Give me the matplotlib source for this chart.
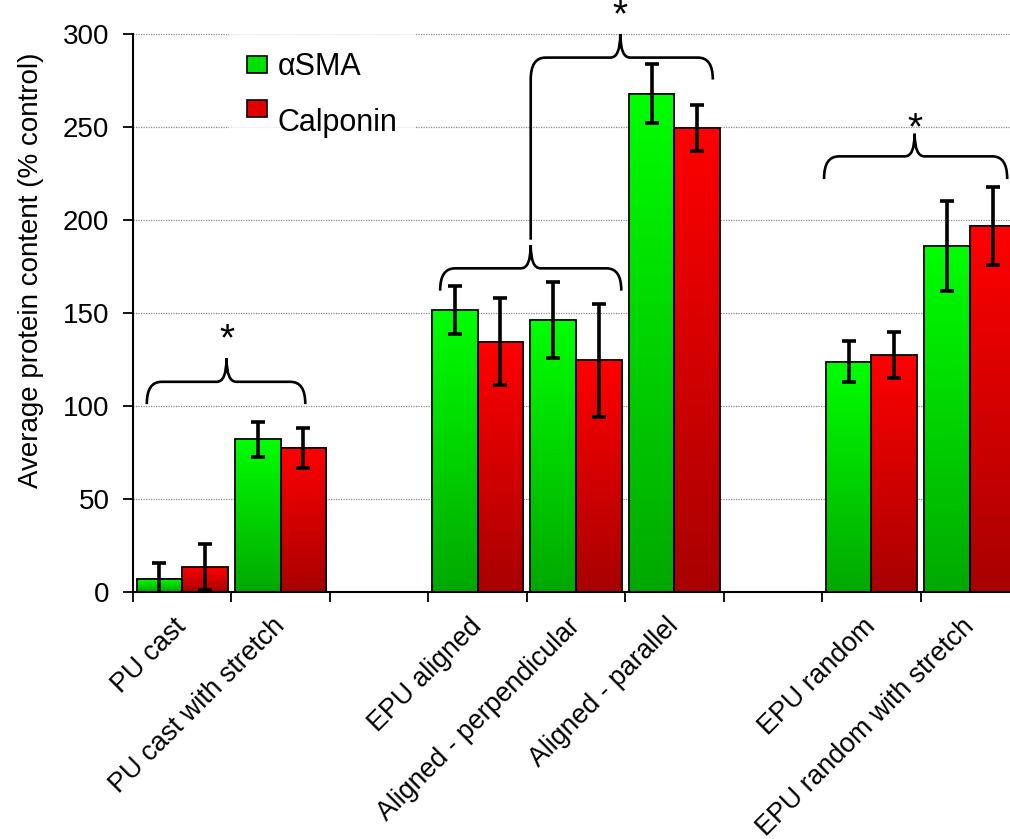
import numpy as np
import matplotlib
matplotlib.use('Agg')
import matplotlib.pyplot as plt
import matplotlib.transforms as mtransforms
from matplotlib.path import Path
from matplotlib.patches import PathPatch, Patch

plt.rcParams['font.family'] = ['Liberation Sans', 'DejaVu Sans']

# Data: slot index on the x axis (gaps between scaffold types are empty slots)
slots = [0, 1, 3, 4, 5, 7, 8]
labels = ['PU cast', 'PU cast with stretch', 'EPU aligned', 'Aligned - perpendicular',
          'Aligned - parallel', 'EPU random', 'EPU random with stretch']
sma = [7.2, 82.1, 151.6, 146.2, 268.0, 123.7, 186.0]
sma_err = [8.2, 9.3, 13.1, 20.4, 16.0, 11.0, 24.0]
calponin = [13.4, 77.6, 134.6, 124.6, 249.3, 127.3, 196.8]
calponin_err = [12.4, 10.8, 23.2, 30.3, 12.3, 12.3, 20.9]

# Significance braces: left x, right x, tip x, left end y, right end y, bar y, tip y
braces = [
    (-0.36, 1.25, 0.45, 101, 101, 113, 125.6),
    (2.62, 4.46, 3.54, 162, 162, 174, 186.4),
    (3.54, 5.39, 4.45, 189.4, 275.5, 287.3, 300),
    (6.52, 8.38, 7.44, 222, 222, 234.2, 246.4),
]
star_y = [135.5, None, 309.5, 248.5]

width = 0.463

fig = plt.figure(figsize=(10.1, 8.39), dpi=100)
ax = fig.add_axes([0.1317, 0.2944, 0.8772, 0.6651])

x = np.array(slots, dtype=float)


def gradient_bars(ax, xs, heights, top, bottom):
    bars = ax.bar(xs, heights, width, facecolor='none', edgecolor='black',
                  linewidth=1.3, zorder=3)
    grad = np.linspace(0, 1, 256)[:, None]
    top = np.array(top) / 255.0
    bottom = np.array(bottom) / 255.0
    img = top[None, None, :] * (1 - grad[:, :, None]) + bottom[None, None, :] * grad[:, :, None]
    for b in bars:
        x0, w, h = b.get_x(), b.get_width(), b.get_height()
        ax.imshow(img, extent=[x0, x0 + w, 0, h], aspect='auto', origin='upper',
                  zorder=2, interpolation='bilinear')
    return bars


gradient_bars(ax, x - width / 2, sma, (0, 255, 0), (0, 168, 0))
gradient_bars(ax, x + width / 2, calponin, (255, 0, 0), (168, 0, 0))

ax.errorbar(x - width / 2, sma, yerr=sma_err, fmt='none', ecolor='black',
            elinewidth=2.6, capsize=5, capthick=2.6, zorder=4)
ax.errorbar(x + width / 2, calponin, yerr=calponin_err, fmt='none', ecolor='black',
            elinewidth=2.6, capsize=5, capthick=2.6, zorder=4)


def brace(ax, x0, x1, xm, yl, yr, yh, yp, rx=0.15, rxm=0.1, ry=11.8):
    verts = [(x0, yl), (x0, yh - ry), (x0, yh), (x0 + rx, yh),
             (xm - rxm, yh), (xm, yh), (xm, yp),
             (xm, yh), (xm + rxm, yh),
             (x1 - rx, yh), (x1, yh), (x1, yh - ry), (x1, yr)]
    codes = [Path.MOVETO, Path.LINETO, Path.CURVE3, Path.CURVE3,
             Path.LINETO, Path.CURVE3, Path.CURVE3,
             Path.CURVE3, Path.CURVE3,
             Path.LINETO, Path.CURVE3, Path.CURVE3, Path.LINETO]
    ax.add_patch(PathPatch(Path(verts, codes), facecolor='none', edgecolor='black',
                           linewidth=1.9, clip_on=False, zorder=5))


for (x0, x1, xm, yl, yr, yh, yp), sy in zip(braces, star_y):
    brace(ax, x0, x1, xm, yl, yr, yh, yp)
    if sy is not None:
        ax.text(xm, sy, '*', ha='center', va='center', fontsize=28, clip_on=False, zorder=6)

ax.set_xlim(-0.5, 8.5)
ax.set_ylim(0, 300)
ax.set_yticks(np.arange(0, 301, 50))
ax.set_xticks(np.arange(-0.5, 9, 1))
ax.set_xticklabels([])
ax.set_xticks(x, labels, minor=True)
shift = mtransforms.ScaledTranslation(-0.09, -0.015, fig.dpi_scale_trans)
for lab in ax.get_xticklabels(minor=True):
    lab.set_rotation(45)
    lab.set_ha('right')
    lab.set_va('center')
    lab.set_rotation_mode('anchor')
    lab.set_transform(lab.get_transform() + shift)

ax.tick_params(axis='both', which='major', direction='out', length=7, width=1.3,
               labelsize=20, colors='black')
ax.tick_params(axis='y', pad=10)
ax.tick_params(axis='x', which='minor', length=0, pad=22, labelsize=19.3)

ax.yaxis.grid(True, linestyle=(0, (1, 1)), color='#8c8c8c', linewidth=0.9, zorder=0)
ax.set_axisbelow(True)

for side in ['top', 'right']:
    ax.spines[side].set_visible(False)
for side in ['left', 'bottom']:
    ax.spines[side].set_linewidth(1.5)
    ax.spines[side].set_zorder(6)

ax.set_ylabel('Average protein content (% control)', fontsize=20)
ax.yaxis.set_label_coords(-0.10, 0.577)

handles = [Patch(facecolor='#00e000', edgecolor='black', linewidth=1.2, label='αSMA'),
           Patch(facecolor='#e00000', edgecolor='black', linewidth=1.2, label='Calponin')]
leg = ax.legend(handles=handles, loc='upper left', bbox_to_anchor=(0.108, 1.0),
                fontsize=22, frameon=True, fancybox=False, handlelength=0.65,
                handleheight=0.5, handletextpad=0.35, labelspacing=0.85,
                borderpad=0.6, borderaxespad=0)
leg.get_frame().set_facecolor('white')
leg.get_frame().set_edgecolor('none')
leg.set_zorder(7)
# the Calponin swatch sits a little above its label
red_patch = leg.legend_handles[1]
red_patch.set_y(red_patch.get_y() + 8.5)

fig.savefig('out.png', dpi=100)
